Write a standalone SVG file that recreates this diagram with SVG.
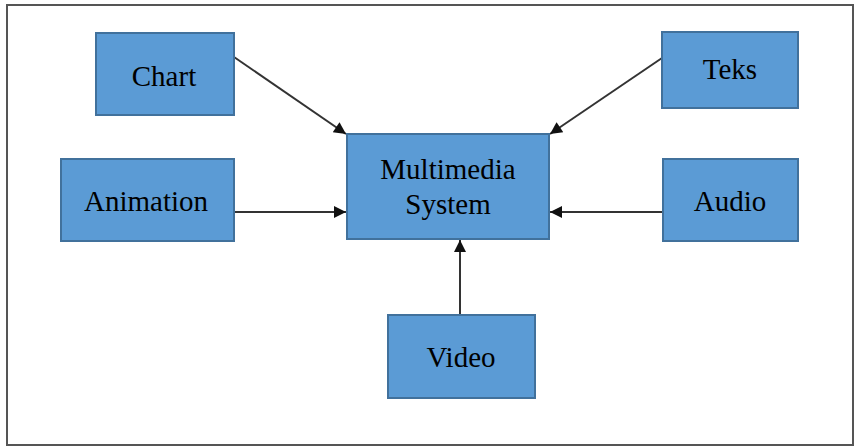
<svg xmlns="http://www.w3.org/2000/svg" width="856" height="446" viewBox="0 0 856 446">
<defs>
<style>
.box{fill:#5B9BD5;stroke:#41719C;stroke-width:2}
.lbl{font-family:"Liberation Serif","Times New Roman",serif;font-size:29px;fill:#000;text-anchor:middle}
.edge{stroke:#333;stroke-width:2;fill:none;marker-end:url(#arr)}
</style>
<marker id="arr" viewBox="0 0 10 10" refX="10" refY="5" markerWidth="7" markerHeight="6" orient="auto" markerUnits="strokeWidth">
<path d="M0,0 L10,5 L0,10 z" fill="#111"/>
</marker>
</defs>
<rect x="0" y="0" width="856" height="446" fill="#fff"/>
<rect x="7" y="5" width="846" height="440" fill="none" stroke="#555" stroke-width="2"/>
<g id="connectors">
<line class="edge" x1="234" y1="57" x2="346" y2="134"/>
<line class="edge" x1="234" y1="212" x2="346" y2="212"/>
<line class="edge" x1="662" y1="58" x2="550" y2="134"/>
<line class="edge" x1="663" y1="212" x2="550" y2="212"/>
<line class="edge" x1="460" y1="315" x2="460" y2="240"/>
</g>
<g id="chart"><rect class="box" x="96" y="33" width="138" height="82"/><text class="lbl" x="164" y="86">Chart</text></g>
<g id="animation"><rect class="box" x="61" y="159" width="173" height="82"/><text class="lbl" x="146" y="211">Animation</text></g>
<g id="multimedia"><rect class="box" x="347" y="134" width="202" height="105"/><text class="lbl" x="448" y="179">Multimedia</text><text class="lbl" x="448" y="214">System</text></g>
<g id="teks"><rect class="box" x="662" y="32" width="136" height="76"/><text class="lbl" x="730" y="79">Teks</text></g>
<g id="audio"><rect class="box" x="663" y="159" width="135" height="82"/><text class="lbl" x="730" y="211">Audio</text></g>
<g id="video"><rect class="box" x="388" y="315" width="147" height="83"/><text class="lbl" x="461" y="367">Video</text></g>
</svg>
